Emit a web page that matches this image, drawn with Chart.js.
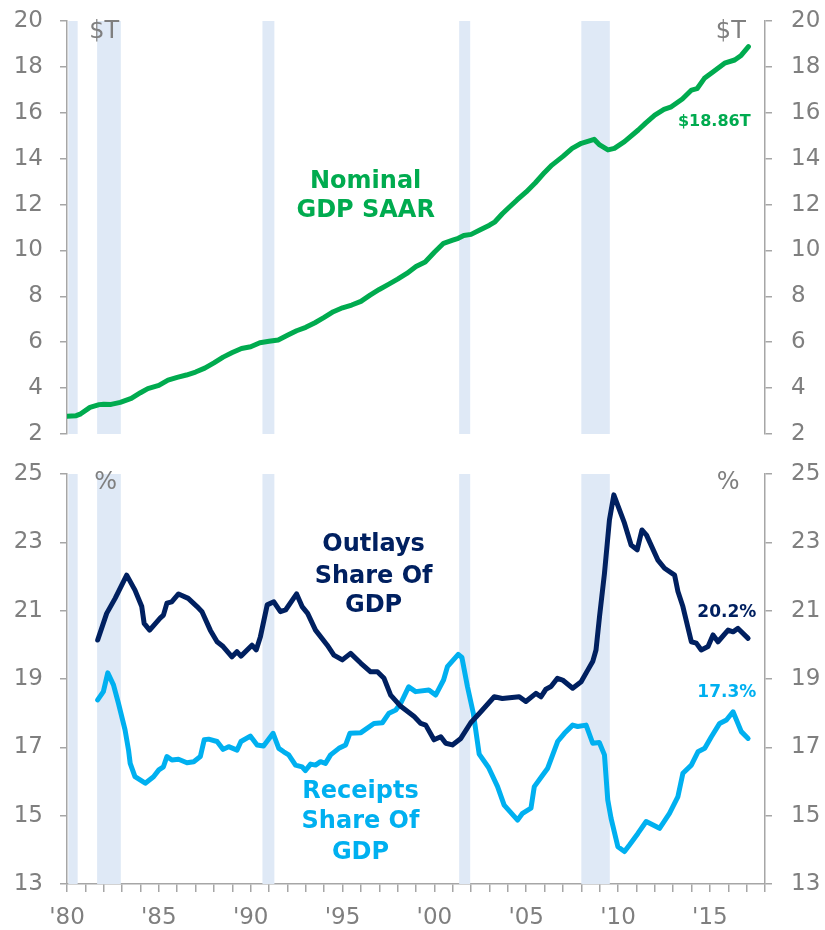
<!DOCTYPE html>
<html>
<head>
<meta charset="utf-8">
<script src="https://cdn.jsdelivr.net/npm/chart.js@4.4.1/dist/chart.umd.min.js"></script>
<style>
  body { margin: 0; background: #fff; }
  canvas { display: block; }
</style>
</head>
<body>
<canvas id="gdpChart" width="825" height="450"></canvas>
<canvas id="shareChart" width="825" height="480"></canvas>
<script>
// nominal GDP, $T
const gdpYears = [1980.0, 1980.5, 1980.75, 1981.25, 1981.75, 1982.0, 1982.4, 1982.9, 1983.5, 1984.0,
  1984.4, 1985.0, 1985.5, 1986.0, 1986.5, 1987.0, 1987.5, 1988.0, 1988.5, 1989.0,
  1989.5, 1990.0, 1990.5, 1991.0, 1991.5, 1992.0, 1992.5, 1993.0, 1993.5, 1994.0,
  1994.5, 1995.0, 1995.5, 1996.0, 1996.5, 1997.0, 1997.5, 1998.0, 1998.5, 1999.0,
  1999.5, 2000.0, 2000.5, 2001.0, 2001.3, 2001.6, 2002.0, 2002.5, 2003.0, 2003.3,
  2003.7, 2004.0, 2004.5, 2005.0, 2005.5, 2006.0, 2006.4, 2007.0, 2007.5, 2008.0,
  2008.7, 2009.0, 2009.45, 2009.8, 2010.35, 2011.1, 2011.5, 2012.0, 2012.5, 2012.9,
  2013.5, 2014.0, 2014.3, 2014.7, 2015.2, 2015.8, 2016.35, 2016.7, 2017.1];
const gdpValues = [2.77, 2.80, 2.88, 3.16, 3.28, 3.30, 3.29, 3.38, 3.55, 3.80,
  3.98, 4.12, 4.35, 4.47, 4.57, 4.70, 4.87, 5.10, 5.35, 5.55,
  5.73, 5.80, 5.98, 6.04, 6.10, 6.30, 6.50, 6.65, 6.85, 7.08,
  7.33, 7.50, 7.62, 7.78, 8.05, 8.30, 8.52, 8.75, 9.00, 9.30,
  9.50, 9.92, 10.31, 10.45, 10.53, 10.65, 10.70, 10.90, 11.10, 11.25,
  11.60, 11.83, 12.20, 12.55, 12.95, 13.40, 13.72, 14.10, 14.45, 14.67,
  14.84, 14.60, 14.38, 14.45, 14.74, 15.25, 15.55, 15.90, 16.15, 16.26,
  16.60, 16.99, 17.05, 17.50, 17.80, 18.16, 18.30, 18.50, 18.88];

// federal outlays, % of GDP
const outlayYears = [1981.67, 1982.16, 1982.62, 1983.25, 1983.7, 1984.07, 1984.2, 1984.5, 1985.07, 1985.25,
  1985.44, 1985.7, 1986.07, 1986.6, 1987.08, 1987.35, 1987.8, 1988.17, 1988.5, 1988.98,
  1989.25, 1989.47, 1990.07, 1990.3, 1990.53, 1990.9, 1991.26, 1991.62, 1991.9, 1992.5,
  1992.8, 1993.1, 1993.53, 1994.17, 1994.53, 1994.99, 1995.44, 1996.0, 1996.53, 1996.9,
  1997.26, 1997.62, 1998.17, 1998.9, 1999.26, 1999.53, 1999.98, 2000.35, 2000.62, 2000.98,
  2001.44, 2001.98, 2002.53, 2003.26, 2003.7, 2004.62, 2004.98, 2005.53, 2005.8, 2006.07,
  2006.35, 2006.7, 2006.98, 2007.53, 2007.99, 2008.35, 2008.62, 2008.8, 2008.99, 2009.26,
  2009.53, 2009.77, 2010.35, 2010.71, 2011.04, 2011.3, 2011.55, 2012.17, 2012.53, 2013.08,
  2013.26, 2013.53, 2013.99, 2014.26, 2014.53, 2014.9, 2015.17, 2015.44, 2015.99, 2016.26,
  2016.53, 2017.08];
const outlayValues = [20.14, 20.92, 21.36, 22.04, 21.6, 21.12, 20.63, 20.43, 20.78, 20.87,
  21.22, 21.26, 21.49, 21.36, 21.12, 20.97, 20.43, 20.09, 19.95, 19.65,
  19.80, 19.67, 19.99, 19.85, 20.24, 21.17, 21.26, 20.97, 21.02, 21.49,
  21.12, 20.92, 20.43, 19.99, 19.70, 19.56, 19.75, 19.46, 19.21, 19.21,
  19.02, 18.53, 18.20, 17.90, 17.70, 17.65, 17.22, 17.31, 17.12, 17.07,
  17.26, 17.72, 18.04, 18.48, 18.43, 18.48, 18.34, 18.58, 18.48, 18.70,
  18.78, 19.02, 18.97, 18.73, 18.92, 19.26, 19.51, 19.85, 20.82, 22.09,
  23.65, 24.39, 23.56, 22.92, 22.78, 23.36, 23.21, 22.48, 22.24, 22.04,
  21.56, 21.12, 20.09, 20.05, 19.85, 19.95, 20.29, 20.09, 20.43, 20.38,
  20.48, 20.19];

// federal receipts, % of GDP
const receiptYears = [1981.67, 1981.98, 1982.22, 1982.53, 1982.8, 1983.16, 1983.35, 1983.44, 1983.7, 1984.26,
  1984.71, 1985.0, 1985.25, 1985.44, 1985.71, 1986.07, 1986.53, 1986.9, 1987.26, 1987.47,
  1987.71, 1988.17, 1988.5, 1988.8, 1989.26, 1989.47, 1989.98, 1990.35, 1990.7, 1991.22,
  1991.53, 1991.8, 1992.07, 1992.44, 1992.8, 1992.98, 1993.26, 1993.53, 1993.8, 1994.07,
  1994.35, 1994.8, 1995.17, 1995.4, 1996.0, 1996.71, 1997.17, 1997.53, 1997.9, 1998.17,
  1998.6, 1998.98, 1999.7, 2000.07, 2000.5, 2000.71, 2001.3, 2001.5, 2001.8, 2002.12,
  2002.44, 2002.95, 2003.44, 2003.8, 2004.53, 2004.8, 2005.26, 2005.44, 2005.9, 2006.17,
  2006.71, 2007.08, 2007.53, 2007.8, 2008.26, 2008.62, 2008.98, 2009.26, 2009.44, 2009.62,
  2009.99, 2010.35, 2010.62, 2011.08, 2011.53, 2012.26, 2012.8, 2013.26, 2013.53, 2013.99,
  2014.35, 2014.72, 2015.08, 2015.53, 2015.9, 2016.26, 2016.71, 2017.08];
const receiptValues = [18.39, 18.63, 19.18, 18.83, 18.29, 17.51, 16.92, 16.53, 16.14, 15.95,
  16.14, 16.34, 16.43, 16.73, 16.63, 16.65, 16.55, 16.58, 16.73, 17.22,
  17.24, 17.17, 16.94, 17.02, 16.92, 17.17, 17.33, 17.07, 17.04, 17.41,
  16.97, 16.87, 16.78, 16.48, 16.43, 16.32, 16.51, 16.48, 16.58, 16.53,
  16.78, 16.97, 17.07, 17.41, 17.43, 17.70, 17.72, 18.0, 18.09, 18.29,
  18.77, 18.63, 18.68, 18.53, 18.97, 19.36, 19.72, 19.63, 18.78, 18.0,
  16.80, 16.41, 15.85, 15.31, 14.87, 15.07, 15.22, 15.85, 16.19, 16.39,
  17.17, 17.41, 17.65, 17.61, 17.65, 17.12, 17.14, 16.78, 15.46, 14.92,
  14.09, 13.95, 14.14, 14.48, 14.83, 14.63, 15.07, 15.56, 16.24, 16.48,
  16.87, 16.97, 17.31, 17.70, 17.80, 18.04, 17.46, 17.26];

// recession periods (shaded)
const recessionStart = [1980.07, 1981.64, 1990.64, 2001.35, 2008.0];
const recessionEnd = [1980.58, 1982.93, 1991.29, 2001.95, 2009.55];

const xMin = 1980, xMax = 2018;

const GREEN = '#00ab4f';
const NAVY = '#002060';
const SKY = '#00b0f0';
const GRAY_TEXT = '#7f7f7f';
const GRAY_LINE = '#a6a6a6';
const BAND = '#dfe9f6';

Chart.defaults.font.family = '"DejaVu Sans", Verdana, sans-serif';
Chart.defaults.color = GRAY_TEXT;

function toPoints(xs, ys) {
  return xs.map((x, i) => ({ x: x, y: ys[i] }));
}

const recessionBands = {
  id: 'recessionBands',
  beforeDatasetsDraw(chart) {
    const { ctx, chartArea, scales } = chart;
    ctx.save();
    ctx.fillStyle = BAND;
    for (let i = 0; i < recessionStart.length; i++) {
      const x1 = scales.x.getPixelForValue(recessionStart[i]);
      const x2 = scales.x.getPixelForValue(recessionEnd[i]);
      ctx.fillRect(x1, chartArea.top, x2 - x1, chartArea.bottom - chartArea.top);
    }
    ctx.restore();
  }
};

// text labels, placed in data coordinates
const textLabels = {
  id: 'textLabels',
  afterDatasetsDraw(chart, args, opts) {
    const { ctx, scales } = chart;
    ctx.save();
    ctx.textAlign = 'center';
    ctx.textBaseline = 'middle';
    for (const t of opts.items) {
      ctx.font = t.font;
      ctx.fillStyle = t.color;
      ctx.fillText(t.text, scales.x.getPixelForValue(t.x), scales.y.getPixelForValue(t.y));
    }
    ctx.restore();
  }
};

function noPad(s) {
  s.paddingTop = 0;
  s.paddingBottom = 0;
  s.paddingLeft = 0;
  s.paddingRight = 0;
}

function yAxis(pos, min, max, width, pad) {
  return {
    type: 'linear',
    position: pos,
    min: min,
    max: max,
    afterFit: s => { s.width = width; noPad(s); },
    border: { display: true, color: GRAY_LINE, width: 1.5 },
    grid: { drawOnChartArea: false, drawTicks: true, tickLength: 7, color: GRAY_LINE, lineWidth: 1.5 },
    ticks: { stepSize: 2, padding: pad, color: GRAY_TEXT, font: { size: 23 } }
  };
}

new Chart(document.getElementById('gdpChart'), {
  type: 'line',
  data: {
    datasets: [{
      data: toPoints(gdpYears, gdpValues),
      borderColor: GREEN,
      borderWidth: 5,
      pointRadius: 0,
      borderJoinStyle: 'round',
      borderCapStyle: 'round'
    }]
  },
  options: {
    responsive: false,
    animation: false,
    devicePixelRatio: 1,
    layout: { padding: { top: 21, bottom: 16, left: 0, right: 0 } },
    plugins: {
      legend: { display: false },
      tooltip: { enabled: false },
      textLabels: {
        items: [
          { text: 'Nominal', x: 1996.26, y: 12.98, font: 'bold 24px "DejaVu Sans"', color: GREEN },
          { text: 'GDP SAAR', x: 1996.26, y: 11.72, font: 'bold 24px "DejaVu Sans"', color: GREEN },
          { text: '$18.86T', x: 2015.24, y: 15.6, font: 'bold 16px "DejaVu Sans"', color: GREEN },
          { text: '$T', x: 1982.02, y: 19.52, font: '24px "DejaVu Sans"', color: GRAY_TEXT },
          { text: '$T', x: 2016.14, y: 19.52, font: '24px "DejaVu Sans"', color: GRAY_TEXT }
        ]
      }
    },
    scales: {
      x: { type: 'linear', min: xMin, max: xMax, display: false },
      y: yAxis('left', 2, 20, 67, 17),
      y2: yAxis('right', 2, 20, 60, 19)
    }
  },
  plugins: [recessionBands, textLabels]
});

new Chart(document.getElementById('shareChart'), {
  type: 'line',
  data: {
    datasets: [{
      data: toPoints(outlayYears, outlayValues),
      borderColor: NAVY,
      borderWidth: 5,
      pointRadius: 0,
      borderJoinStyle: 'round',
      borderCapStyle: 'round'
    }, {
      data: toPoints(receiptYears, receiptValues),
      borderColor: SKY,
      borderWidth: 5,
      pointRadius: 0,
      borderJoinStyle: 'round',
      borderCapStyle: 'round'
    }]
  },
  options: {
    responsive: false,
    animation: false,
    devicePixelRatio: 1,
    layout: { padding: { top: 24, bottom: 0, left: 0, right: 0 } },
    plugins: {
      legend: { display: false },
      tooltip: { enabled: false },
      textLabels: {
        items: [
          { text: 'Outlays', x: 1996.69, y: 22.92, font: 'bold 24px "DejaVu Sans"', color: NAVY },
          { text: 'Share Of', x: 1996.69, y: 21.99, font: 'bold 24px "DejaVu Sans"', color: NAVY },
          { text: 'GDP', x: 1996.69, y: 21.14, font: 'bold 24px "DejaVu Sans"', color: NAVY },
          { text: 'Receipts', x: 1995.98, y: 15.69, font: 'bold 24px "DejaVu Sans"', color: SKY },
          { text: 'Share Of', x: 1995.98, y: 14.82, font: 'bold 24px "DejaVu Sans"', color: SKY },
          { text: 'GDP', x: 1995.98, y: 13.91, font: 'bold 24px "DejaVu Sans"', color: SKY },
          { text: '20.2%', x: 2015.92, y: 20.93, font: 'bold 17px "DejaVu Sans"', color: NAVY },
          { text: '17.3%', x: 2015.92, y: 18.59, font: 'bold 17px "DejaVu Sans"', color: SKY },
          { text: '%', x: 1982.1, y: 24.74, font: '24px "DejaVu Sans"', color: GRAY_TEXT },
          { text: '%', x: 2016.0, y: 24.74, font: '24px "DejaVu Sans"', color: GRAY_TEXT }
        ]
      }
    },
    scales: {
      x: {
        type: 'linear',
        min: xMin,
        max: xMax,
        afterFit: s => { s.height = 46; noPad(s); },
        border: { display: true, color: GRAY_LINE, width: 1.5 },
        grid: { drawOnChartArea: false, drawTicks: true, tickLength: 8, color: GRAY_LINE, lineWidth: 1.5 },
        ticks: {
          stepSize: 1,
          autoSkip: false,
          maxRotation: 0,
          padding: 12,
          color: GRAY_TEXT,
          font: { size: 23 },
          callback: v => (v % 5 === 0 ? "'" + String(v % 100).padStart(2, '0') : '')
        }
      },
      y: yAxis('left', 13, 25, 67, 17),
      y2: yAxis('right', 13, 25, 60, 19)
    }
  },
  plugins: [recessionBands, textLabels]
});
</script>
</body>
</html>
